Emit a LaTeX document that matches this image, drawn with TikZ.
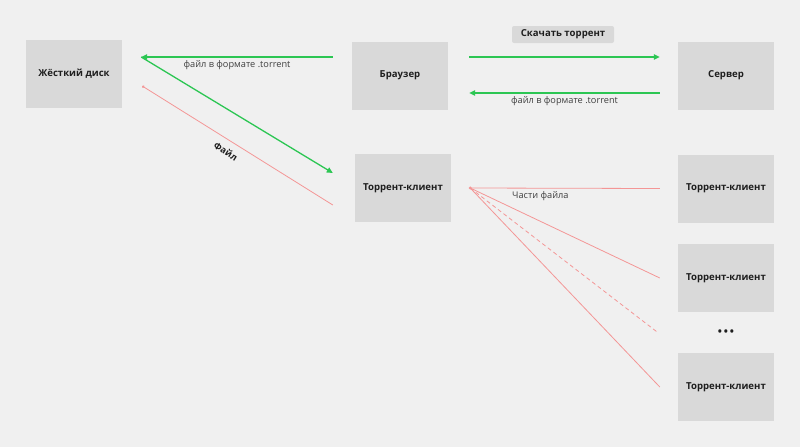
\documentclass[tikz,border=0pt]{standalone}
\usepackage{fontspec}
\setmainfont{Open Sans}
\usetikzlibrary{arrows.meta}
\definecolor{bg}{HTML}{F0F0F0}
\definecolor{boxgray}{HTML}{D9D9D9}
\definecolor{grn}{HTML}{2CC653}
\definecolor{rd}{HTML}{F49696}
\definecolor{ink}{HTML}{1E1E1E}
\begin{document}
\begin{tikzpicture}[
            x=1pt, y=-1pt,
            box/.style={
              fill=boxgray,
              minimum width=96pt,
              minimum height=68pt,
              inner sep=0pt,
              text=ink,
              font=\bfseries\fontsize{9.6}{11}\selectfont
            },
            lbl/.style={
              text=ink!85,
              font=\fontsize{9.2}{11}\selectfont
            },
            gline/.style={
              draw=grn, line width=1.3pt,
              -{Triangle[length=6pt,width=5.5pt]}
            },
            rline/.style={
              draw=rd, line width=0.8pt
            }
        ]
    \useasboundingbox[fill=bg] (0,0) rectangle (800,447);

    \node[box] (hdd) at (74,74) {Жёсткий диск};
    \node[box] (browser) at (400,75.5) {Браузер};
    \node[box] (server) at (726,75.5) {Сервер};
    \node[box] (torrent) at (403,188) {Торрент-клиент};

    \foreach \i/\y in {1/188.5, 2/278, 3/387}
      \node[box] (rc\i) at (726,\y) {Торрент-клиент};
    \node[text=ink, font=\bfseries\fontsize{11}{12}\selectfont] (dots) at (726,333) {•\,•\,•};

    \node[fill=boxgray, rounded corners=2pt, minimum width=102pt, minimum height=17pt,
          inner sep=0pt, text=ink, font=\bfseries\fontsize{9.6}{11}\selectfont]
          (dl) at (563,34.5) {Скачать торрент};

    % browser <-> hdd, hdd -> torrent client
    \draw[gline] ([xshift=-19pt,yshift=18.5pt]browser.west) --
      node[lbl, below, pos=0.5] {файл в формате .torrent}
      ([xshift=19pt,yshift=17pt]hdd.east);
    \draw[gline] ([xshift=19pt,yshift=17pt]hdd.east) --
      ([xshift=-22pt,yshift=15pt]torrent.west);
    \draw[rline, -{Circle[length=2.5pt]}] ([xshift=-22pt,yshift=-17pt]torrent.west) --
      node[below=4pt, sloped, pos=0.53, text=ink, font=\bfseries\fontsize{9.2}{11}\selectfont] {Файл}
      ([xshift=20pt,yshift=-12pt]hdd.east);

    % browser <-> server
    \draw[gline] ([xshift=21pt,yshift=18.5pt]browser.east) --
      ([xshift=-18pt,yshift=18.5pt]server.west);
    \draw[gline] ([xshift=-18pt,yshift=-17.5pt]server.west) --
      node[lbl, below] {файл в формате .torrent}
      ([xshift=21pt,yshift=-17.5pt]browser.east);

    % pieces from other clients
    \coordinate (tc) at ([xshift=19pt]torrent.east);
    \fill[rd] (tc) circle (1.6pt);
    \draw[rline] (tc) -- node[lbl, below, pos=0.37] {Части файла} ([xshift=-18pt]rc1.west);
    \foreach \i in {2,3}
      \draw[rline] (tc) -- ([xshift=-18pt]rc\i.west);
    \draw[rline, dashed, dash pattern=on 4pt off 3pt] (tc) -- ([xshift=-56pt]dots.west);

    \end{tikzpicture}
\end{document}
